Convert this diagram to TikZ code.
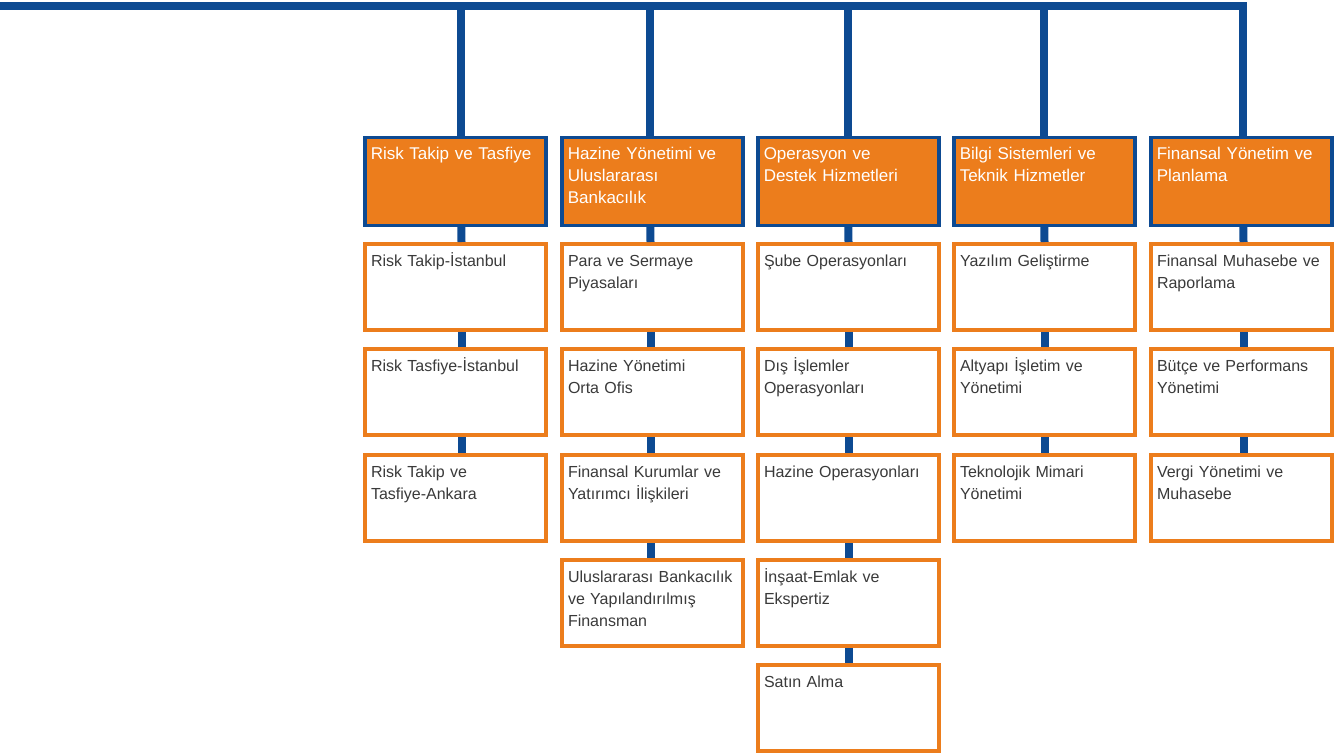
\documentclass[tikz,border=0pt]{standalone}
\usepackage{fontspec}
\setmainfont{Liberation Sans}
\definecolor{bankblue}{HTML}{0D4A92}
\definecolor{bankorange}{HTML}{EC7D1C}
\definecolor{unittext}{HTML}{3A3A3A}
\tikzset{
	unitbox/.style={draw=bankorange,line width=4pt,fill=white,anchor=north west,
		text width=169pt,align=left,inner xsep=6pt,inner ysep=4pt,
		text height=18pt,text depth=60pt,text=unittext,
		font=\fontsize{16}{22}\selectfont},
	headbox/.style={unitbox,draw=bankblue,fill=bankorange,line width=3.5pt,
		text=white,text depth=61.5pt,font=\fontsize{17}{22}\selectfont},
	bus/.style={draw=bankblue,line width=8pt,line join=miter},
}
\begin{document}
\begin{tikzpicture}[x=1pt,y=-1pt]
	\useasboundingbox (0,0) rectangle (1340,754);
	%	header row
	\node[headbox] (h1) at (363,136) {Risk Takip ve Tasfiye};
	\node[headbox] (h2) at (560,136) {Hazine Yönetimi ve\\Uluslararası\\Bankacılık};
	\node[headbox] (h3) at (756,136) {Operasyon ve\\Destek Hizmetleri};
	\node[headbox] (h4) at (952,136) {Bilgi Sistemleri ve\\Teknik Hizmetler};
	\node[headbox] (h5) at (1149,136) {Finansal Yönetim ve\\Planlama};
	%	units
	\node[unitbox] (r11) at (363,242) {Risk Takip-İstanbul};
	\node[unitbox] (r12) at (363,347) {Risk Tasfiye-İstanbul};
	\node[unitbox] (r13) at (363,453) {Risk Takip ve\\Tasfiye-Ankara};
	\node[unitbox] (r21) at (560,242) {Para ve Sermaye\\Piyasaları};
	\node[unitbox] (r22) at (560,347) {Hazine Yönetimi\\Orta Ofis};
	\node[unitbox] (r23) at (560,453) {Finansal Kurumlar ve\\Yatırımcı İlişkileri};
	\node[unitbox] (r24) at (560,558) {Uluslararası Bankacılık\\ve Yapılandırılmış\\Finansman};
	\node[unitbox] (r31) at (756,242) {Şube Operasyonları};
	\node[unitbox] (r32) at (756,347) {Dış İşlemler\\Operasyonları};
	\node[unitbox] (r33) at (756,453) {Hazine Operasyonları};
	\node[unitbox] (r34) at (756,558) {İnşaat-Emlak ve\\Ekspertiz};
	\node[unitbox] (r35) at (756,663) {Satın Alma};
	\node[unitbox] (r41) at (952,242) {Yazılım Geliştirme};
	\node[unitbox] (r42) at (952,347) {Altyapı İşletim ve\\Yönetimi};
	\node[unitbox] (r43) at (952,453) {Teknolojik Mimari\\Yönetimi};
	\node[unitbox] (r51) at (1149,242) {Finansal Muhasebe ve\\Raporlama};
	\node[unitbox] (r52) at (1149,347) {Bütçe ve Performans\\Yönetimi};
	\node[unitbox] (r53) at (1149,453) {Vergi Yönetimi ve\\Muhasebe};
	%	column axes and top bus
	\coordinate (busL) at (0,6);
	\foreach \i/\s in {1/6,2/-2,3/0,4/0,5/2}
		\coordinate (a\i) at ([xshift=\s pt]h\i.north);
	\draw[bus] (busL) -- (busL -| a5) -- (a5);
	\foreach \i in {1,...,4}
		\draw[bus] (busL -| a\i) -- (a\i);
	%	stubs
	\foreach \a/\b/\s in {h1/r11/6,r11/r12/6,r12/r13/6,h2/r21/-2,r21/r22/-2,r22/r23/-2,r23/r24/-2,
		h3/r31/0,r31/r32/0,r32/r33/0,r33/r34/0,r34/r35/0,h4/r41/0,r41/r42/0,r42/r43/0,
		h5/r51/2,r51/r52/2,r52/r53/2}
		\draw[bus] ([xshift=\s pt]\a.south) -- ([xshift=\s pt]\b.north);
\end{tikzpicture}
\end{document}
